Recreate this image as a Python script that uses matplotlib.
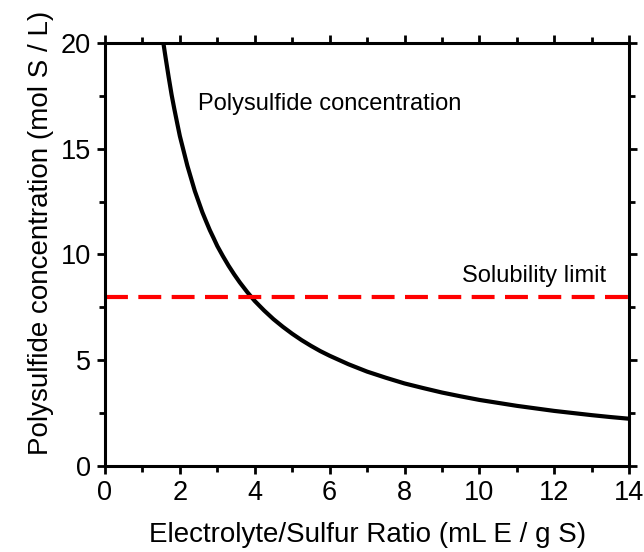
import matplotlib.pyplot as plt
from matplotlib.ticker import MultipleLocator

plt.rcParams['font.family'] = ['Liberation Sans', 'DejaVu Sans']

# values
ratio = [1.56, 1.62, 1.7, 1.78, 1.85, 1.93, 2.0, 2.1, 2.2, 2.3, 2.4, 2.5,
         2.6, 2.7, 2.8, 2.9, 3.0, 3.15, 3.3, 3.45, 3.6, 3.8, 4.0, 4.25,
         4.5, 4.75, 5.0, 5.25, 5.5, 5.75, 6.0, 6.5, 7.0, 7.5, 8.0, 8.5,
         9.0, 9.5, 10.0, 10.5, 11.0, 11.5, 12.0, 12.5, 13.0, 13.5, 14.0]
conc = [20.0, 19.3, 18.4, 17.55, 16.9, 16.2, 15.6, 14.9, 14.2, 13.6, 13.0, 12.5,
        12.0, 11.57, 11.15, 10.78, 10.4, 9.92, 9.47, 9.06, 8.68, 8.22, 7.8, 7.35,
        6.94, 6.58, 6.25, 5.95, 5.68, 5.43, 5.21, 4.81, 4.46, 4.17, 3.9, 3.68,
        3.47, 3.29, 3.12, 2.98, 2.84, 2.72, 2.6, 2.5, 2.4, 2.31, 2.23]
limit_x = [0, 14]
limit_y = [8, 8]

fig = plt.figure(figsize=(6.44, 5.52), dpi=100)
ax = fig.add_axes([0.163, 0.156, 0.814, 0.766])

ax.plot(ratio, conc, color='black', lw=3, solid_capstyle='butt')
ax.plot(limit_x, limit_y, color='#ff0000', lw=3, dashes=(5.5, 2.5))

ax.text(2.48, 17.1, 'Polysulfide concentration', fontsize=17, va='center')
ax.text(9.53, 9.0, 'Solubility limit', fontsize=17, va='center')

ax.set_xlim(0, 14)
ax.set_ylim(0, 20)
ax.xaxis.set_major_locator(MultipleLocator(2))
ax.xaxis.set_minor_locator(MultipleLocator(1))
ax.yaxis.set_major_locator(MultipleLocator(5))
ax.yaxis.set_minor_locator(MultipleLocator(2.5))
ax.tick_params(which='both', direction='out', top=True, right=True,
               labeltop=False, labelright=False, width=2)
ax.tick_params(which='major', length=6, labelsize=19.5, pad=4)
ax.tick_params(which='minor', length=4)
for s in ax.spines.values():
    s.set_linewidth(2.2)

ax.set_xlabel('Electrolyte/Sulfur Ratio (mL E / g S)', fontsize=20, labelpad=12)
ax.set_ylabel('Polysulfide concentration (mol S / L)', fontsize=20, labelpad=5)
ax.yaxis.label.set_y(0.551)

fig.savefig('out.png', dpi=100)
